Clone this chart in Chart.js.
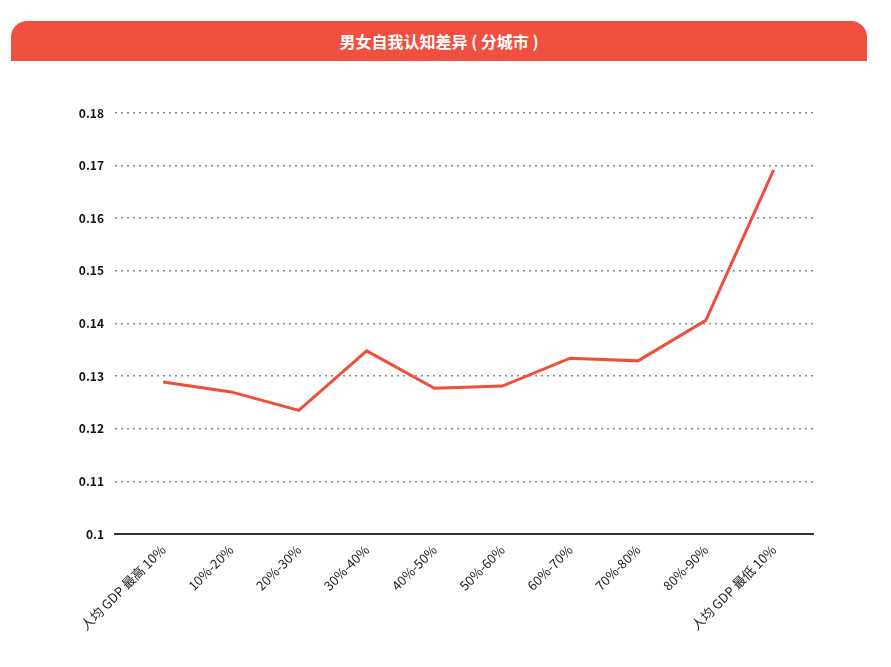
<!DOCTYPE html>
<html>
<head>
<meta charset="utf-8">
<script src="https://cdn.jsdelivr.net/npm/chart.js@4"></script>
<style>
    body { margin: 0; background: #fff; }
    #wrap { position: relative; width: 891px; height: 667px; }
    #banner {
        position: absolute; left: 11px; top: 21px; width: 856px; height: 40px;
        background: #F0503F; border-radius: 16px 16px 0 0;
        color: #fff; font: bold 16px "Noto Sans CJK SC", sans-serif;
        text-align: center; line-height: 40px;
    }
    #chart { position: absolute; left: 0; top: 0; }
</style>
</head>
<body>
<div id="wrap">
    <div id="banner">男女自我认知差异 ( 分城市 )</div>
    <canvas id="chart" width="891" height="667"></canvas>
</div>
<script>
const categories = ['人均 GDP 最高 10%', '10%-20%', '20%-30%', '30%-40%', '40%-50%',
    '50%-60%', '60%-70%', '70%-80%', '80%-90%', '人均 GDP 最低 10%'];
const diffValues = [0.1289, 0.1270, 0.1235, 0.1348, 0.1277, 0.1281, 0.1334, 0.1329, 0.1406, 0.1692];

document.addEventListener('DOMContentLoaded', function() {
    const ctx = document.getElementById('chart').getContext('2d');
    new Chart(ctx, {
        type: 'line',
        data: {
            datasets: [{
                data: diffValues.map((v, i) => ({ x: i, y: v })),
                borderColor: '#F04E3B',
                borderWidth: 3,
                pointRadius: 0,
                tension: 0,
                fill: false
            }]
        },
        options: {
            responsive: false,
            animation: false,
            layout: { padding: { top: 113, bottom: 0, left: 0, right: 78 } },
            plugins: { legend: { display: false }, tooltip: { enabled: false } },
            scales: {
                x: {
                    type: 'linear',
                    min: -0.71,
                    max: 9.58,
                    afterFit: function(scale) { scale.height = 133; },
                    grid: { display: false, drawTicks: false },
                    border: { display: true, color: '#333', width: 2 },
                    ticks: {
                        stepSize: 1,
                        includeBounds: false,
                        autoSkip: false,
                        minRotation: 45,
                        maxRotation: 45,
                        padding: 8,
                        color: '#222',
                        font: { family: '"Noto Sans CJK SC", sans-serif', size: 13 },
                        callback: function(v) {
                            return Number.isInteger(v) ? categories[v] : '';
                        }
                    }
                },
                y: {
                    min: 0.1,
                    max: 0.18,
                    afterFit: function(scale) { scale.width = 115; },
                    border: { display: false, dash: [2, 4] },
                    grid: {
                        drawTicks: false,
                        lineWidth: 1.5,
                        color: function(c) { return c.tick && c.tick.value <= 0.1001 ? 'rgba(0,0,0,0)' : '#888'; }
                    },
                    ticks: {
                        stepSize: 0.01,
                        padding: 11,
                        color: '#111',
                        font: { family: '"Noto Sans CJK SC", sans-serif', size: 12, weight: 'bold' },
                        callback: function(v) { return String(Math.round(v * 100) / 100); }
                    }
                }
            }
        }
    });
});
</script>
</body>
</html>
